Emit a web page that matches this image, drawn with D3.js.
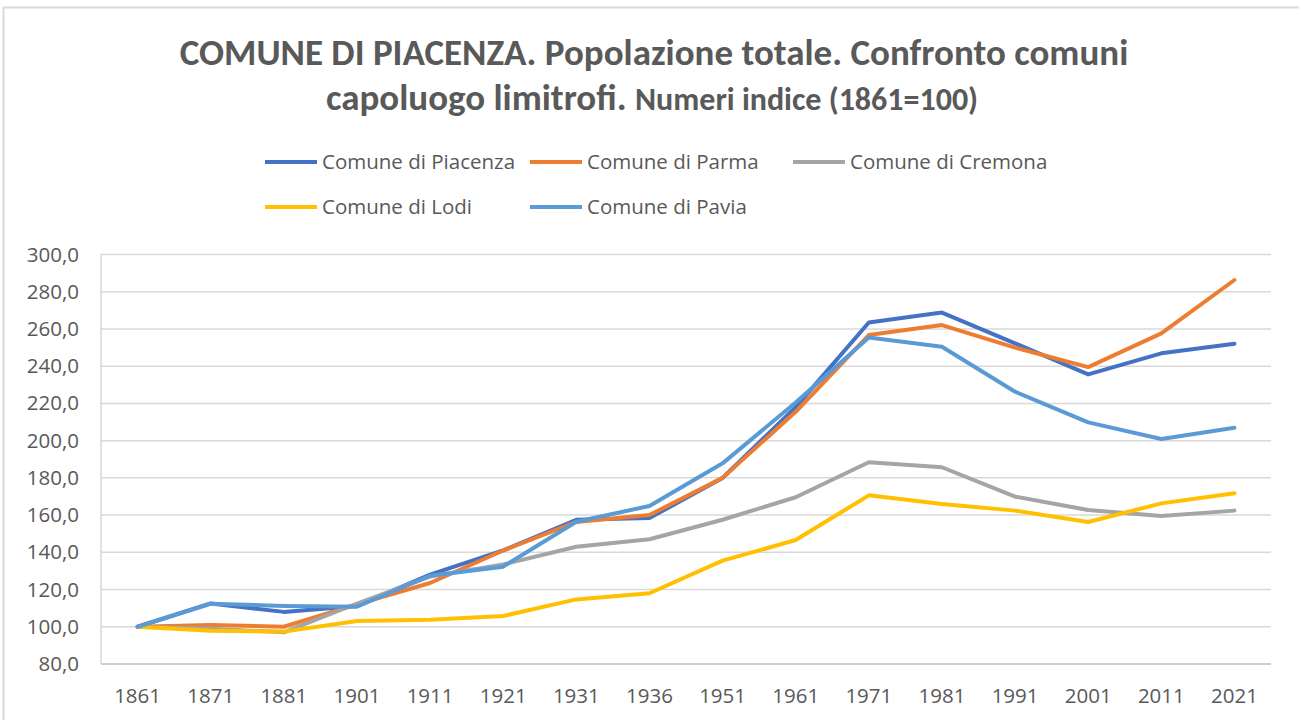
<!DOCTYPE html>
<html>
<head>
<meta charset="utf-8">
<script src="https://cdn.jsdelivr.net/npm/d3@7"></script>
<style>
  body { margin: 0; background: #fff; }
  svg { display: block; }
  text { fill: #595959; }
</style>
</head>
<body>
<svg id="chart" width="1299" height="720"></svg>
<script>
// categories (census years)
const years = ["1861", "1871", "1881", "1901", "1911", "1921", "1931", "1936",
  "1951", "1961", "1971", "1981", "1991", "2001", "2011", "2021"];

const piacenza = [100, 112.5, 108, 111.2, 128, 141, 157.5, 158.4, 179.9, 218, 263.5, 268.8, 252.3, 235.6, 246.9, 252.1];
const parma    = [100, 101, 100, 112, 123.5, 141, 156.3, 160, 180, 215.5, 256.7, 262.1, 250, 239.5, 257.6, 286.3];
const cremona  = [100, 99, 97, 112.5, 127, 133.5, 143, 147, 157.5, 169.6, 188.4, 185.7, 169.9, 162.7, 159.5, 162.4];
const lodi     = [100, 97.9, 97.4, 103.1, 103.8, 105.8, 114.7, 118, 135.5, 146.6, 170.6, 166, 162.4, 156.3, 166.3, 171.7];
const pavia    = [100, 112.4, 111.2, 110.8, 127.4, 132.3, 156.4, 164.9, 187.8, 220.5, 255.4, 250.4, 226.3, 209.8, 200.9, 206.9];

const seriesNames = ["Comune di Piacenza", "Comune di Parma", "Comune di Cremona", "Comune di Lodi", "Comune di Pavia"];
const seriesColors = ["#4472C4", "#ED7D31", "#A5A5A5", "#FFC000", "#5B9BD5"];
const yTicks = [80, 100, 120, 140, 160, 180, 200, 220, 240, 260, 280, 300];

const series = [piacenza, parma, cremona, lodi, pavia].map((values, i) => ({
  name: seriesNames[i], color: seriesColors[i], values
}));

const svg = d3.select("#chart");
const plot = { left: 101, right: 1271, top: 254.5, bottom: 664 };
const labelFont = "'Open Sans', 'Noto Sans', sans-serif";
const labelSize = 20.5;

// chart frame
svg.append("rect")
  .attr("x", 3.5).attr("y", 7.5)
  .attr("width", 1300).attr("height", 730)
  .attr("fill", "none").attr("stroke", "#D9D9D9").attr("stroke-width", 2);

// title, two lines
const title = svg.append("g")
  .attr("font-family", "Carlito, Calibri, Lato, sans-serif")
  .attr("font-weight", "bold");
title.append("text")
  .attr("x", 654).attr("y", 65)
  .attr("text-anchor", "middle")
  .attr("font-size", 37)
  .text("COMUNE DI PIACENZA. Popolazione totale. Confronto comuni");
const t2 = title.append("text")
  .attr("x", 652).attr("y", 110)
  .attr("text-anchor", "middle")
  .attr("font-size", 37);
t2.append("tspan").text("capoluogo limitrofi. ");
t2.append("tspan").attr("font-size", 32).text("Numeri indice (1861=100)");

const x = d3.scaleBand().domain(years).range([plot.left, plot.right]);
const y = d3.scaleLinear().domain([80, 300]).range([plot.bottom, plot.top]);

// gridlines
svg.append("g")
  .selectAll("line")
  .data(yTicks.slice(1))
  .join("line")
  .attr("x1", plot.left).attr("x2", plot.right)
  .attr("y1", d => y(d)).attr("y2", d => y(d))
  .attr("stroke", "#D9D9D9").attr("stroke-width", 1.5);

// axis lines
svg.append("line")
  .attr("x1", plot.left).attr("x2", plot.left)
  .attr("y1", plot.top).attr("y2", plot.bottom)
  .attr("stroke", "#D9D9D9").attr("stroke-width", 1.5);
svg.append("line")
  .attr("x1", plot.left).attr("x2", plot.right)
  .attr("y1", plot.bottom).attr("y2", plot.bottom)
  .attr("stroke", "#BFBFBF").attr("stroke-width", 1.5);

// y axis labels
const fmt = d => d3.format(".1f")(d).replace(".", ",");
const yAxis = svg.append("g")
  .attr("transform", `translate(${plot.left},0)`)
  .call(d3.axisLeft(y).tickValues(yTicks).tickFormat(fmt).tickSize(0).tickPadding(22));
yAxis.select(".domain").remove();
yAxis.selectAll("text")
  .attr("font-family", labelFont).attr("font-size", labelSize).style("fill", "#595959");

// x axis labels
const xAxis = svg.append("g")
  .attr("transform", `translate(0,${plot.bottom})`)
  .call(d3.axisBottom(x).tickSize(0).tickPadding(24));
xAxis.select(".domain").remove();
xAxis.selectAll("text")
  .attr("font-family", labelFont).attr("font-size", labelSize).style("fill", "#595959");

// lines
const line = d3.line()
  .x((d, i) => x(years[i]) + x.bandwidth() / 2)
  .y(d => y(d));
svg.append("g")
  .selectAll("path")
  .data(series)
  .join("path")
  .attr("d", d => line(d.values))
  .attr("fill", "none")
  .attr("stroke", d => d.color)
  .attr("stroke-width", 4)
  .attr("stroke-linejoin", "round")
  .attr("stroke-linecap", "round");

// legend, two rows
const legendPos = [[265, 162], [530, 162], [793, 162], [265, 207], [530, 207]];
const legend = svg.append("g")
  .selectAll("g")
  .data(series)
  .join("g")
  .attr("transform", (d, i) => `translate(${legendPos[i][0]},${legendPos[i][1]})`);
legend.append("line")
  .attr("x1", 0).attr("x2", 52)
  .attr("stroke", d => d.color).attr("stroke-width", 4);
legend.append("text")
  .attr("x", 57).attr("dy", "0.35em")
  .attr("font-family", labelFont).attr("font-size", labelSize)
  .text(d => d.name);
</script>
</body>
</html>
